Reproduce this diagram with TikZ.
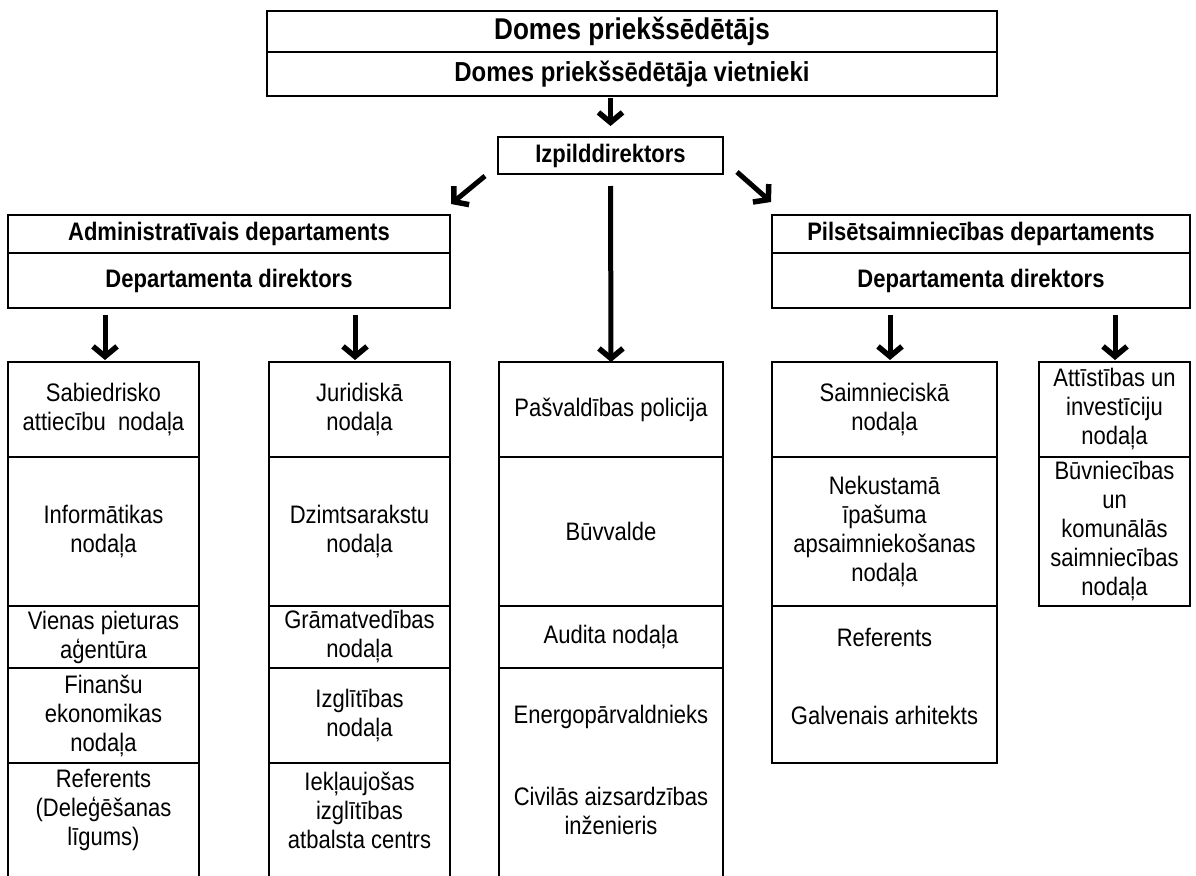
\documentclass[tikz,border=0pt]{standalone}
\usepackage{fontspec}
\setmainfont{Liberation Sans}[FakeStretch=0.87]
\usetikzlibrary{arrows.meta,calc}
\newcommand{\bodyfont}{\fontsize{25.3}{29}\selectfont}
\newcommand{\headfont}{\fontsize{25.3}{29}\selectfont\bfseries}
\begin{document}
\begin{tikzpicture}[x=1pt,y=-1pt,
  cell/.style={draw, line width=2.3pt, inner sep=0pt, outer sep=0pt, align=center, font=\bodyfont},
  head/.style={cell, font=\headfont},
  txt/.style={inner sep=0pt, align=center, font=\bodyfont},
  arr/.style={line width=5pt, -{Straight Barb[length=10pt,width=24pt,line width=5.5pt]}}]
\useasboundingbox (0,0) rectangle (1196,875);
\clip (0,0) rectangle (1196,875);
% top
\node[head, minimum width=730pt, minimum height=41pt, font=\fontsize{30}{34}\selectfont\bfseries] (top1) at (632,31.5) {Domes priekšsēdētājs};
\node[head, minimum width=730pt, minimum height=44pt, font=\fontsize{27.5}{32}\selectfont\bfseries] (top2) at (632,74) {Domes priekšsēdētāja vietnieki};
\node[head, minimum width=225pt, minimum height=37pt] (izp) at (610.5,155.5) {Izpilddirektors};
% departments
\node[head, minimum width=442pt, minimum height=38pt] (adm1) at (229,234) {Administratīvais departaments};
\node[head, minimum width=442pt, minimum height=55pt] (adm2) at (229,280.5) {Departamenta direktors};
\node[head, minimum width=418pt, minimum height=38pt] (pil1) at (981,234) {Pilsētsaimniecības departaments};
\node[head, minimum width=418pt, minimum height=55pt] (pil2) at (981,280.5) {Departamenta direktors};
% column 1
\node[cell, minimum width=191pt, minimum height=95pt] (c1a) at (103.5,409.5) {Sabiedrisko\\attiecību\ \ nodaļa};
\node[cell, minimum width=191pt, minimum height=149pt] (c1b) at (103.5,531.5) {Informātikas\\nodaļa};
\node[cell, minimum width=191pt, minimum height=62pt] (c1c) at (103.5,637) {Vienas pieturas\\aģentūra};
\node[cell, minimum width=191pt, minimum height=95pt] (c1d) at (103.5,715.5) {Finanšu\\ekonomikas\\nodaļa};
\node[cell, minimum width=191pt, minimum height=140pt] (c1e) at (103.5,833) {};
\node[txt] (t1e) at (103.5,810) {Referents\\(Deleģēšanas\\līgums)};
% column 2
\node[cell, minimum width=181pt, minimum height=95pt] (c2a) at (359.5,409.5) {Juridiskā\\nodaļa};
\node[cell, minimum width=181pt, minimum height=149pt] (c2b) at (359.5,531.5) {Dzimtsarakstu\\nodaļa};
\node[cell, minimum width=181pt, minimum height=62pt] (c2c) at (359.5,637) {Grāmatvedības\\nodaļa};
\node[cell, minimum width=181pt, minimum height=95pt] (c2d) at (359.5,715.5) {Izglītības\\nodaļa};
\node[cell, minimum width=181pt, minimum height=140pt] (c2e) at (359.5,833) {};
\node[txt] (t2e) at (359.5,810) {Iekļaujošas\\izglītības\\atbalsta centrs};
% column 3
\node[cell, minimum width=224pt, minimum height=95pt] (c3a) at (611,409.5) {Pašvaldības policija};
\node[cell, minimum width=224pt, minimum height=149pt] (c3b) at (611,531.5) {Būvvalde};
\node[cell, minimum width=224pt, minimum height=62pt] (c3c) at (611,637) {Audita nodaļa};
\node[cell, minimum width=224pt, minimum height=235pt] (c3d) at (611,785.5) {};
\node[txt] (t3d1) at (611,717) {Energopārvaldnieks};
\node[txt] (t3d2) at (611,811) {Civilās aizsardzības\\inženieris};
% column 4
\node[cell, minimum width=225pt, minimum height=95pt] (c4a) at (884.5,409.5) {Saimnieciskā\\nodaļa};
\node[cell, minimum width=225pt, minimum height=149pt] (c4b) at (884.5,531.5) {Nekustamā\\īpašuma\\apsaimniekošanas\\nodaļa};
\node[cell, minimum width=225pt, minimum height=157pt] (c4c) at (884.5,684.5) {};
\node[txt] (t4c1) at (884.5,637) {Referents};
\node[txt] (t4c2) at (884.5,715) {Galvenais arhitekts};
% column 5
\node[cell, minimum width=151pt, minimum height=95pt] (c5a) at (1114.5,409.5) {Attīstības un\\investīciju\\nodaļa};
\node[cell, minimum width=151pt, minimum height=149pt] (c5b) at (1114.5,531.5) {Būvniecības\\un\\komunālās\\saimniecības\\nodaļa};
% arrows
\draw[arr] ($(top2.south -| izp.north)+(0,2)$) -- ($(izp.north)+(0,-11)$);
\draw[arr] ($(izp.south west)+(-13,2)$) -- ($(adm1.north east)+(1,-11)$);
\draw[arr] ($(izp.south east)+(14,-2)$) -- ($(pil1.north west)+(-1,-13)$);
\draw[arr] ($(izp.south)+(0,12)$) -- (c3a.north);
\draw[arr] ($(adm2.south -| c1a.north)+(1.5,7)$) -- ($(c1a.north)+(1.5,-2)$);
\draw[arr] ($(adm2.south -| c2a.north)+(-4.5,7)$) -- ($(c2a.north)+(-4.5,-2)$);
\draw[arr] ($(pil2.south -| c4a.north)+(5.5,7)$) -- ($(c4a.north)+(5.5,-2)$);
\draw[arr] ($(pil2.south -| c5a.north)+(0.5,7)$) -- ($(c5a.north)+(0.5,-2)$);
\end{tikzpicture}
\end{document}
